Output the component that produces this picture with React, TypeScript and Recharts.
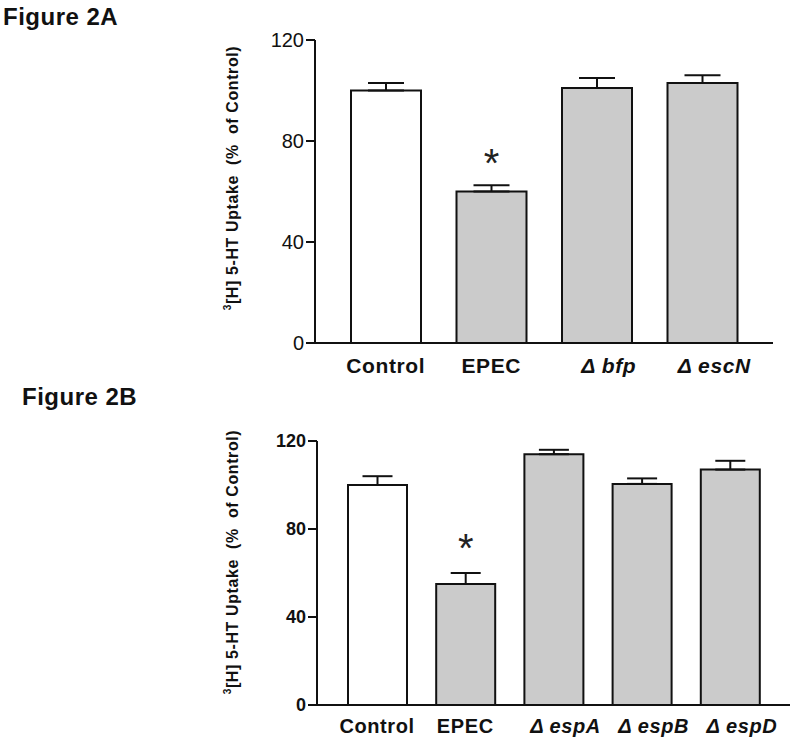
import React from "react";
import { BarChart, Bar, XAxis, YAxis, ErrorBar, Cell, LabelList } from "recharts";

const FONT = "Arial, 'Liberation Sans', Helvetica, sans-serif";

// Figure 2A
const topCategories = ["Control", "EPEC", "Δ bfp", "Δ escN"];
const topMeans = [100, 60, 101, 103];
const topSem = [3, 2.5, 4, 3];
const topMarks = ["", "*", "", ""];

// Figure 2B
const bottomCategories = ["Control", "EPEC", "Δ espA", "Δ espB", "Δ espD"];
const bottomMeans = [100, 55, 114, 100.5, 107];
const bottomSem = [4, 5, 2, 2.5, 4];
const bottomMarks = ["", "*", "", "", ""];

const yTicks = [0, 40, 80, 120];

const buildRows = (names: string[], means: number[], sem: number[], marks: string[]) =>
  names.map((name, i) => ({ name, value: means[i], err: [0, sem[i]], mark: marks[i] }));

const topData = buildRows(topCategories, topMeans, topSem, topMarks);
const bottomData = buildRows(bottomCategories, bottomMeans, bottomSem, bottomMarks);

const makeTick = (fontSize: number, shift: number) => (props: any) => {
  const { x, y, payload } = props;
  const label: string = payload.value;
  const mutant = label.startsWith("Δ");
  return (
    <text
      x={x + (mutant ? shift : 0)}
      y={y}
      dy="0.71em"
      textAnchor="middle"
      fontSize={fontSize}
      fontWeight="bold"
      fontStyle={mutant ? "italic" : "normal"}
      letterSpacing={0.6}
      fontFamily={FONT}
      fill="#111"
    >
      {label}
    </text>
  );
};

const starLabel = (lift: number) => (props: any) => {
  const { x, y, width, value } = props;
  if (!value) return null;
  return (
    <text
      x={x + width / 2}
      y={y - lift}
      textAnchor="middle"
      fontSize={40}
      fontFamily={FONT}
      fill="#222"
    >
      {value}
    </text>
  );
};

const yLabel = (cx: number, cy: number) => () => (
  <text
    x={cx}
    y={cy}
    transform={`rotate(-90, ${cx}, ${cy})`}
    textAnchor="middle"
    dominantBaseline="central"
    fontSize={16}
    fontWeight="bold"
    letterSpacing={0.6}
    fontFamily={FONT}
    fill="#111"
  >
    <tspan fontSize={10} dy={-5}>3</tspan>
    <tspan dy={5}>{"[H] 5-HT Uptake\u00a0\u00a0(%\u00a0\u00a0of Control)"}</tspan>
  </text>
);

const titleStyle = (left: number, top: number): React.CSSProperties => ({
  position: "absolute",
  left,
  top,
  fontFamily: FONT,
  fontWeight: "bold",
  fontSize: 24,
  letterSpacing: 0.5,
  lineHeight: 1,
  color: "#111",
  whiteSpace: "nowrap",
});

export default function App() {
  return (
    <div style={{ position: "absolute", left: 0, top: 0, width: 800, height: 749, background: "#fff" }}>
      <div style={titleStyle(3, 5)}>Figure 2A</div>
      <div style={titleStyle(22, 385)}>Figure 2B</div>

      <div style={{ position: "absolute", left: 0, top: 0 }}>
        <BarChart width={800} height={385} data={topData} margin={{ top: 40, right: 27, bottom: 0, left: 0 }}>
          <XAxis
            dataKey="name"
            height={42}
            padding={{ left: 18, right: 18 }}
            axisLine={{ stroke: "#111", strokeWidth: 2 }}
            tickLine={false}
            tickSize={0}
            tickMargin={15}
            tick={makeTick(21, 12)}
            interval={0}
          />
          <YAxis
            width={315}
            domain={[0, 120]}
            ticks={yTicks}
            interval={0}
            axisLine={{ stroke: "#111", strokeWidth: 2 }}
            tickLine={{ stroke: "#111", strokeWidth: 2 }}
            tickSize={9}
            tickMargin={2}
            tick={{ fontSize: 20, fill: "#111", fontFamily: FONT }}
            label={yLabel(232, 178)}
          />
          <Bar dataKey="value" barSize={70} stroke="#111" strokeWidth={2} isAnimationActive={false}>
            {topData.map((d, i) => (
              <Cell key={i} fill={i === 0 ? "#ffffff" : "#cbcbcb"} />
            ))}
            <ErrorBar dataKey="err" width={18} stroke="#111" strokeWidth={2} direction="y" isAnimationActive={false} />
            <LabelList dataKey="mark" content={starLabel(15)} />
          </Bar>
        </BarChart>
      </div>

      <div style={{ position: "absolute", left: 0, top: 400 }}>
        <BarChart width={800} height={340} data={bottomData} margin={{ top: 41, right: 10, bottom: 0, left: 0 }}>
          <XAxis
            dataKey="name"
            height={35}
            padding={{ left: 16, right: 16 }}
            axisLine={{ stroke: "#111", strokeWidth: 2 }}
            tickLine={false}
            tickSize={0}
            tickMargin={14}
            tick={makeTick(20, 12)}
            interval={0}
          />
          <YAxis
            width={317}
            domain={[0, 120]}
            ticks={yTicks}
            interval={0}
            axisLine={{ stroke: "#111", strokeWidth: 2 }}
            tickLine={{ stroke: "#111", strokeWidth: 2 }}
            tickSize={9}
            tickMargin={2}
            tick={{ fontSize: 18, fontWeight: "bold", fill: "#111", fontFamily: FONT }}
            label={yLabel(232, 162)}
          />
          <Bar dataKey="value" barSize={59} stroke="#111" strokeWidth={2} isAnimationActive={false}>
            {bottomData.map((d, i) => (
              <Cell key={i} fill={i === 0 ? "#ffffff" : "#cbcbcb"} />
            ))}
            <ErrorBar dataKey="err" width={15} stroke="#111" strokeWidth={2} direction="y" isAnimationActive={false} />
            <LabelList dataKey="mark" content={starLabel(22)} />
          </Bar>
        </BarChart>
      </div>
    </div>
  );
}
